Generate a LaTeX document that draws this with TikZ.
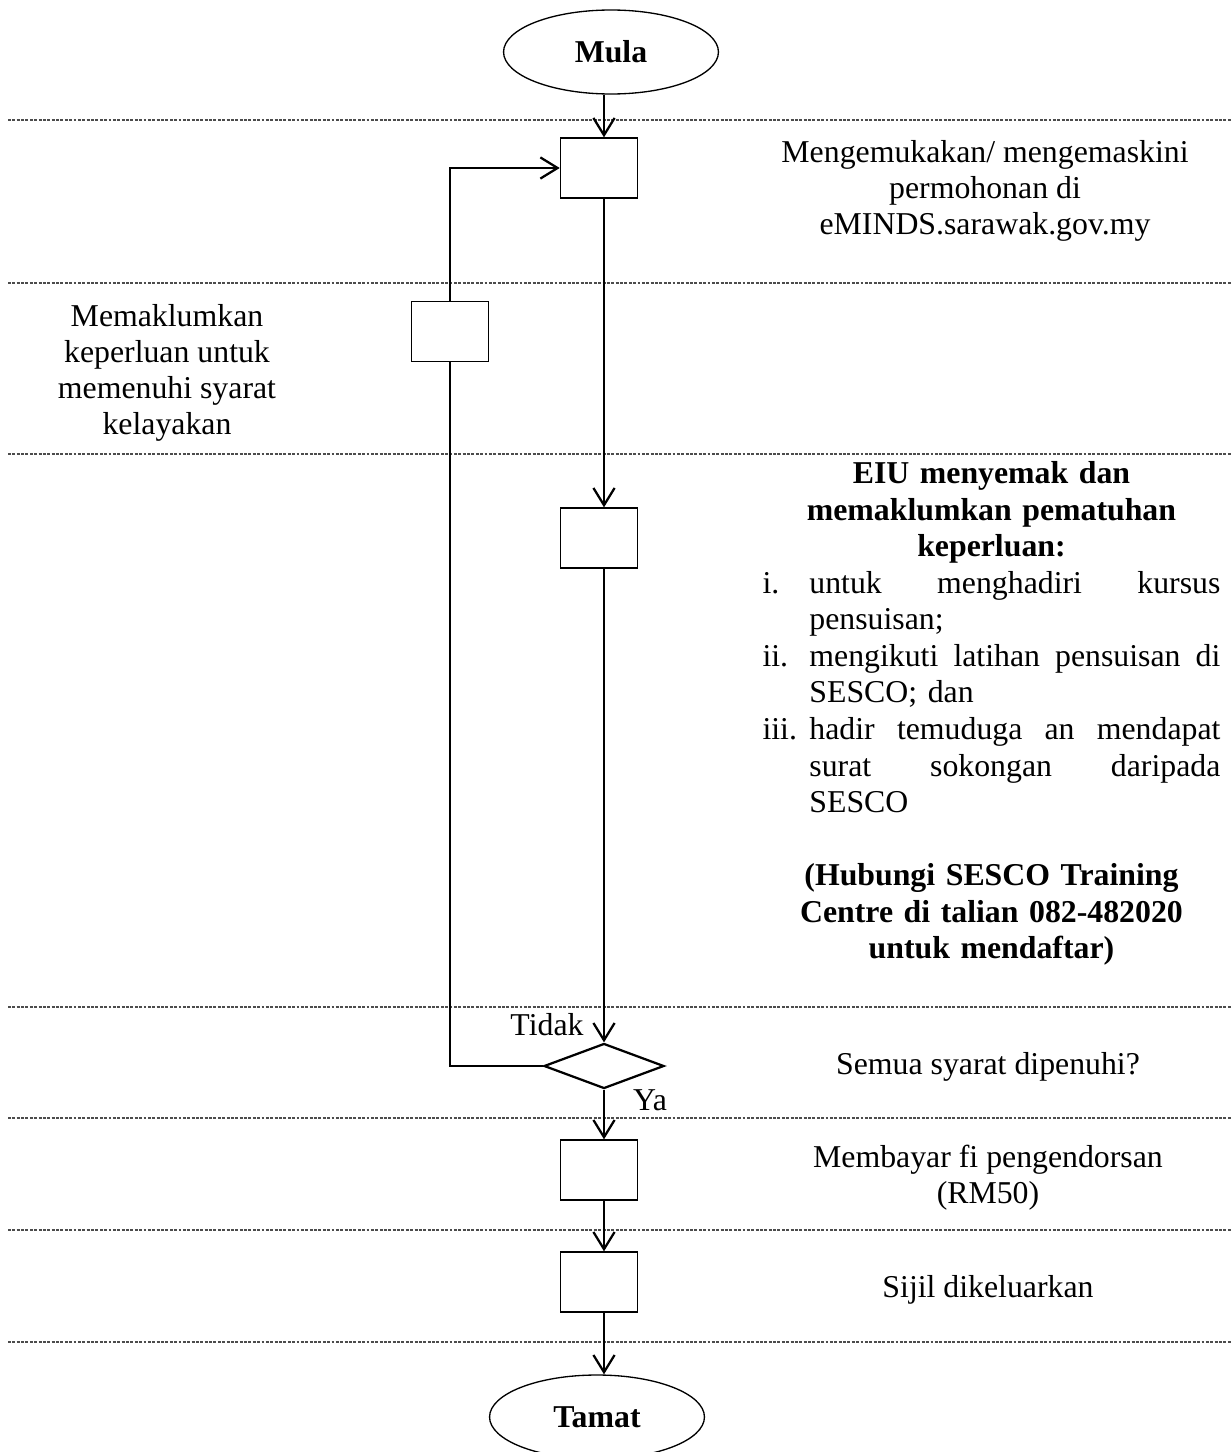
\documentclass[tikz,border=0pt]{standalone}
\usepackage{fontspec}
\setmainfont{Liberation Serif}
\usetikzlibrary{arrows.meta,shapes.geometric}
\setlength{\parindent}{0pt}
\newcommand\jline[1]{\hbox to 155.1pt{#1}}
\begin{document}
\begin{tikzpicture}[x=0.3774pt,y=-0.3774pt,
  txt/.style={inner sep=0pt,font=\fontsize{12}{13.6}\selectfont,align=center},
  term/.style={ellipse,draw,line width=0.5pt,minimum width=81.1pt,minimum height=31.7pt,inner sep=0pt,font=\fontsize{12}{13.6}\selectfont\bfseries},
  stepbox/.style={rectangle,draw,line width=0.55pt,minimum width=29.1pt,minimum height=22.6pt,inner sep=0pt},
  decide/.style={diamond,draw,line width=0.85pt,minimum width=45.3pt,minimum height=17pt,inner sep=0pt},
  flow/.style={line width=0.85pt,-{Straight Barb[length=6.5pt,width=8pt]}},
  plain/.style={line width=0.85pt},
  sep/.style={line width=0.45pt,draw=black!70,dash pattern=on 1.1pt off 0.55pt}]
\clip (0,0) rectangle (1231,1452);
\fill[white] (0,0) rectangle (1231,1452);
% separators
\foreach \yy in {120,283,454,1007,1118,1230,1342}
  \draw[sep] (8,\yy) -- (1231,\yy);
% nodes
\coordinate (col) at (604,0);
\node[term] (mula) at (611,52) {Mula};
\node[stepbox] (b1) at (599,168) {};
\node[stepbox] (bl) at (450,331.5) {};
\node[stepbox] (b2) at (599,538) {};
\node[decide] (dec) at (604,1066) {};
\node[stepbox] (b4) at (599,1170) {};
\node[stepbox] (b5) at (599,1282) {};
\node[term] (tamat) at (597,1417) {Tamat};
% connectors
\draw[flow] (mula.south -| col) -- (b1.north -| col);
\draw[flow] (b1.south -| col) -- (b2.north -| col);
\draw[flow] (b2.south -| col) -- (dec.north);
\draw[flow] (dec.south) -- (b4.north -| col);
\draw[flow] (b4.south -| col) -- (b5.north -| col);
\draw[flow] (b5.south -| col) -- (tamat.north -| col);
\draw[plain] (dec.west) -| (bl.south);
\draw[flow] (bl.north) |- (b1.west);
% labels
\node[txt,anchor=base] (tidak) at (547,1035) {Tidak};
\node[txt,anchor=base] (ya) at (650,1110) {Ya};
\node[txt,anchor=north] (t1) at (985,140) {Mengemukakan/ mengemaskini\\ permohonan di\\ eMINDS.sarawak.gov.my};
\node[txt,anchor=north] (tl) at (167,304) {Memaklumkan\\ keperluan untuk\\ memenuhi syarat\\ kelayakan};
\node[inner sep=0pt,font=\fontsize{12}{13.8}\selectfont,text width=172.8pt,anchor=north west] (eiu) at (762,461) {%
{\centering\bfseries EIU menyemak dan\\ memaklumkan pematuhan\\ keperluan:\par}
\makebox[17.7pt][l]{i.}\jline{untuk\hfill menghadiri\hfill kursus}\\
\hspace*{17.7pt}pensuisan;\\
\makebox[17.7pt][l]{ii.}\jline{mengikuti\hfill latihan\hfill pensuisan\hfill di}\\
\hspace*{17.7pt}SESCO; dan\\
\makebox[17.7pt][l]{iii.}\jline{hadir\hfill temuduga\hfill an\hfill mendapat}\\
\hspace*{17.7pt}\jline{surat\hfill sokongan\hfill daripada}\\
\hspace*{17.7pt}SESCO\par
\vspace{13.8pt}
{\centering\bfseries (Hubungi SESCO Training\\ Centre di talian 082-482020\\ untuk mendaftar)\par}};
\node[txt,anchor=base] (t3) at (988,1074) {Semua syarat dipenuhi?};
\node[txt,anchor=north] (t4) at (988,1145) {Membayar fi pengendorsan\\ (RM50)};
\node[txt,anchor=base] (t5) at (988,1297) {Sijil dikeluarkan};
\end{tikzpicture}
\end{document}
